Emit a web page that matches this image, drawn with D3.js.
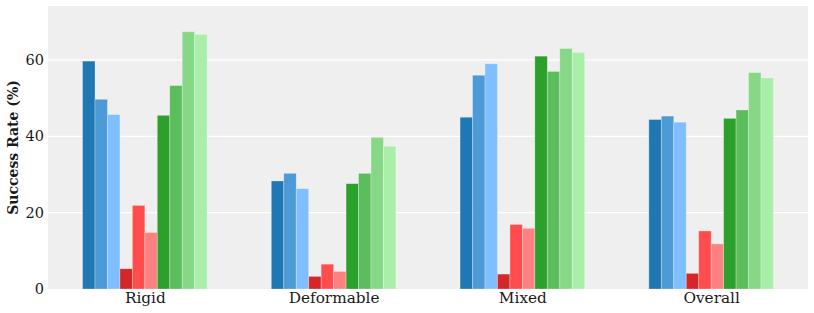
<!DOCTYPE html>
<html><head><meta charset="utf-8">
<script src="https://cdn.jsdelivr.net/npm/d3@7"></script>
<style>body{margin:0;background:#fff}svg{display:block}</style>
</head><body>
<svg id="chart" width="814" height="313"></svg>
<script>
const categories = ["Rigid", "Deformable", "Mixed", "Overall"];
const seriesNames = ["B1","B2","B3","R1","R2","R3","G1","G2","G3","G4"];
const seriesColors = ["#1f77b4","#4c9bd6","#80bfff","#d62728","#ff4d4d","#ff8080","#2ca02c","#5cbd5c","#86d886","#a9eea9"];
const values = [
  [59.7, 28.3, 45.0, 44.4],
  [49.7, 30.3, 56.0, 45.3],
  [45.7, 26.3, 59.0, 43.7],
  [5.3, 3.3, 3.9, 4.1],
  [21.9, 6.5, 16.9, 15.2],
  [14.8, 4.6, 15.9, 11.8],
  [45.5, 27.6, 61.0, 44.7],
  [53.3, 30.3, 57.0, 46.9],
  [67.4, 39.7, 63.0, 56.7],
  [66.7, 37.4, 62.0, 55.3]
];
const yTicks = [0, 20, 40, 60];

const svg = d3.select("#chart");
const L = 48, R = 808, T = 6, B = 289;
const bw = 0.066;
const n = seriesNames.length;
const half = n * bw / 2;
const span = (categories.length - 1) + 2 * half;
const margin = span * 0.05;
const x = d3.scaleLinear().domain([-half - margin, categories.length - 1 + half + margin]).range([L, R]);
const y = d3.scaleLinear().domain([0, 67.4 * 1.1]).range([B, T]);

svg.append("rect").attr("x", L).attr("y", T).attr("width", R - L).attr("height", B - T).attr("fill", "#efefef");

svg.append("g").selectAll("line").data(yTicks.filter(d => d > 0)).join("line")
  .attr("x1", L).attr("x2", R).attr("y1", d => y(d)).attr("y2", d => y(d))
  .attr("stroke", "#ffffff").attr("stroke-width", 1.2);

const g = svg.append("g");
values.forEach((vals, si) => {
  g.append("g").selectAll("rect").data(vals).join("rect")
    .attr("x", (d, ci) => x(ci + (si - n / 2) * bw))
    .attr("width", x(bw) - x(0))
    .attr("y", d => y(d))
    .attr("height", d => B - y(d))
    .attr("fill", seriesColors[si])
    .attr("stroke", "rgba(255,255,255,0.35)")
    .attr("stroke-width", 0.8);
});

const font = "DejaVu Serif";
const yAxis = svg.append("g").attr("transform", `translate(${L},0)`)
  .call(d3.axisLeft(y).tickValues(yTicks).tickSize(0).tickPadding(4));
yAxis.select(".domain").remove();
yAxis.selectAll("text").attr("font-family", font).attr("font-size", 14.5).attr("fill", "#1a1a1a");

const xAxis = svg.append("g").attr("transform", `translate(0,${B})`)
  .call(d3.axisBottom(x).tickValues(d3.range(categories.length)).tickFormat(i => categories[i]).tickSize(0).tickPadding(3));
xAxis.select(".domain").remove();
xAxis.selectAll("text").attr("font-family", font).attr("font-size", 15.3).attr("fill", "#1a1a1a");

svg.append("text").attr("transform", `translate(18,${(T + B) / 2}) rotate(-90)`)
  .attr("text-anchor", "middle").attr("font-family", font).attr("font-weight", "bold")
  .attr("font-size", 14).attr("fill", "#1a1a1a").text("Success Rate (%)");
</script>
</body></html>
